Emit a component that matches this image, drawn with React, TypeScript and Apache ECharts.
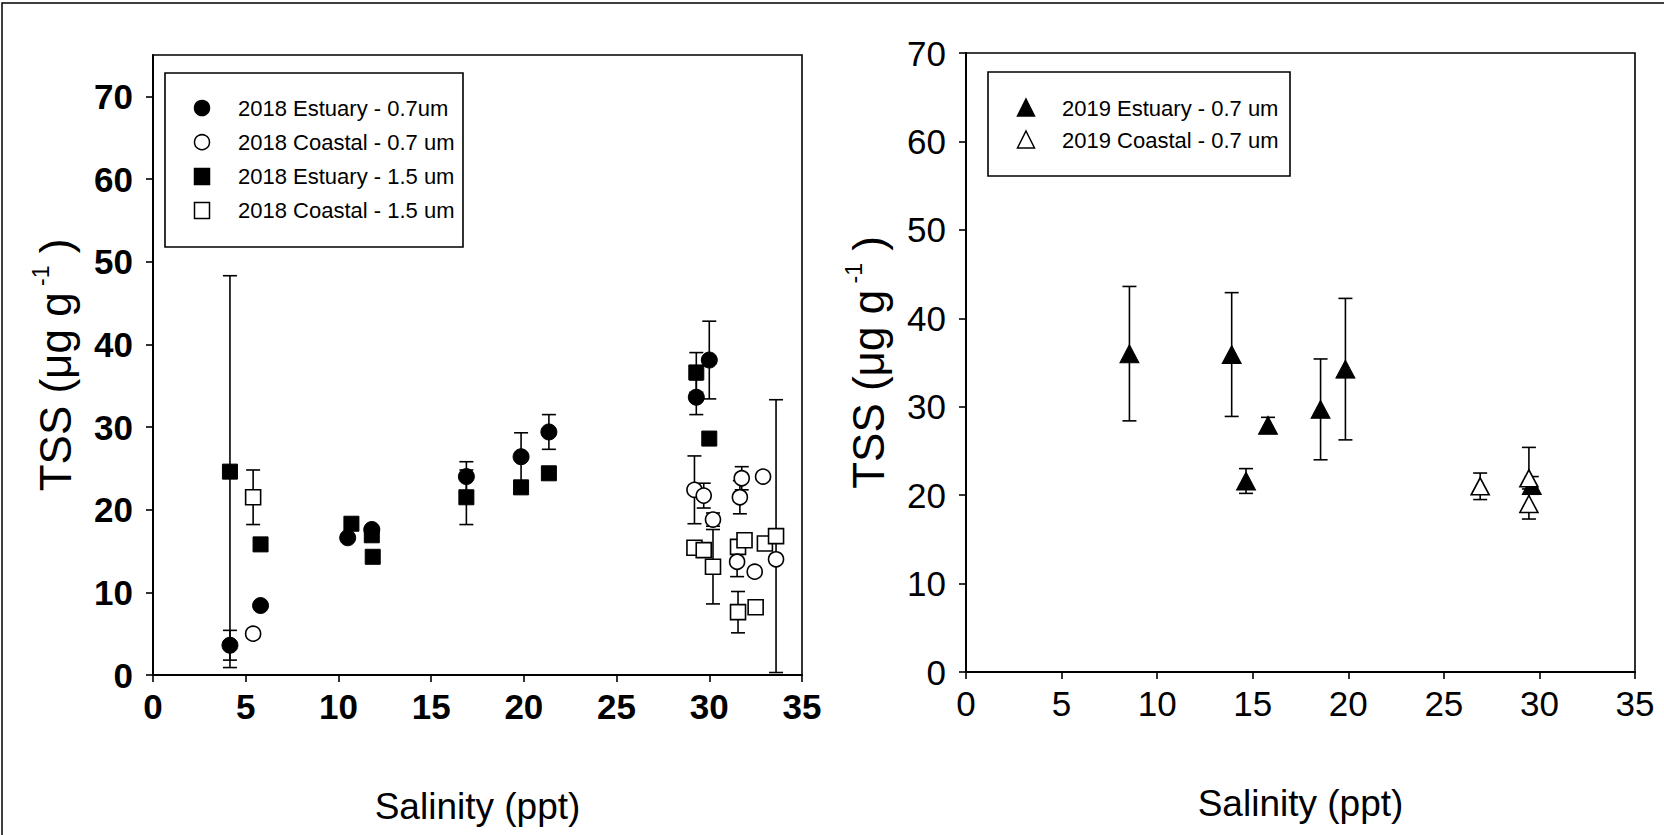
import React, { useEffect, useRef } from "react";
import * as echarts from "echarts";

// ---------- data: [salinity, TSS, error] ----------
const est07_2018: number[][] = [
  [4.15, 3.6, 1.8],
  [5.8, 8.4, 0],
  [10.5, 16.6, 0],
  [11.8, 17.6, 0],
  [16.9, 24.0, 1.8],
  [19.85, 26.4, 2.9],
  [21.35, 29.4, 2.1],
  [29.3, 33.6, 2.1],
  [30.0, 38.1, 4.7],
];
const coa07_2018: number[][] = [
  [5.4, 5.0, 0],
  [29.2, 22.4, 4.1],
  [29.7, 21.7, 1.5],
  [30.2, 18.8, 0.8],
  [31.75, 23.8, 1.4],
  [32.9, 24.0, 0],
  [31.65, 21.5, 2.0],
  [31.5, 13.7, 1.8],
  [32.45, 12.5, 0],
  [33.6, 14.0, 0],
];
const est15_2018: number[][] = [
  [4.15, 24.6, 23.7],
  [5.8, 15.8, 0],
  [10.7, 18.3, 0],
  [11.8, 16.9, 0],
  [11.85, 14.3, 0],
  [16.9, 21.5, 3.3],
  [19.85, 22.7, 0],
  [21.35, 24.4, 0],
  [29.3, 36.6, 2.4],
  [30.0, 28.6, 0],
];
const coa15_2018: number[][] = [
  [5.4, 21.5, 3.3],
  [29.2, 15.4, 0],
  [29.7, 15.1, 0],
  [30.2, 13.1, 4.5],
  [31.55, 15.5, 0],
  [31.9, 16.3, 0],
  [33.0, 15.9, 0],
  [33.6, 16.8, 16.5],
  [31.55, 7.6, 2.5],
  [32.5, 8.2, 0],
];
const est07_2019: number[][] = [
  [8.55, 36.0, 7.6],
  [13.9, 35.9, 7.0],
  [14.65, 21.6, 1.4],
  [15.8, 27.9, 0.9],
  [18.55, 29.7, 5.7],
  [19.85, 34.25, 8.0],
  [29.6, 21.1, 1.0],
];
const coa07_2019: number[][] = [
  [26.9, 21.0, 1.5],
  [29.45, 21.9, 3.5],
  [29.45, 19.0, 1.7],
];

const legend2018 = [
  "2018 Estuary - 0.7um",
  "2018 Coastal - 0.7 um",
  "2018 Estuary - 1.5 um",
  "2018 Coastal - 1.5 um",
];
const legend2019 = ["2019 Estuary - 0.7 um", "2019 Coastal - 0.7 um"];

const xTicks = [0, 5, 10, 15, 20, 25, 30, 35];
const yTicks = [0, 10, 20, 30, 40, 50, 60, 70];

const FONT = "'Liberation Sans', Arial, Helvetica, sans-serif";

function errorBars(data: number[][], idx: number, name: string) {
  return {
    type: "custom",
    name: name + " err",
    xAxisIndex: idx,
    yAxisIndex: idx,
    data,
    encode: { x: 0, y: 1 },
    z: 1,
    silent: true,
    renderItem: (params: any, api: any) => {
      const x = api.value(0);
      const y = api.value(1);
      const e = api.value(2);
      if (!e) return { type: "group", children: [] };
      const top = api.coord([x, y + e]);
      const bot = api.coord([x, Math.max(0, y - e)]);
      const h = 7;
      const st = { stroke: "#000", lineWidth: 1.6 };
      return {
        type: "group",
        children: [
          { type: "line", shape: { x1: top[0], y1: top[1], x2: bot[0], y2: bot[1] }, style: st },
          { type: "line", shape: { x1: top[0] - h, y1: top[1], x2: top[0] + h, y2: top[1] }, style: st },
          { type: "line", shape: { x1: bot[0] - h, y1: bot[1], x2: bot[0] + h, y2: bot[1] }, style: st },
        ],
      };
    },
  };
}

function scatter(data: number[][], idx: number, name: string, symbol: string, size: any, filled: boolean) {
  return {
    type: "scatter",
    name,
    xAxisIndex: idx,
    yAxisIndex: idx,
    data: data.map((d) => [d[0], d[1]]),
    symbol,
    symbolSize: size,
    z: 3,
    itemStyle: filled
      ? { color: "#000", borderColor: "#000", borderWidth: 1, opacity: 1 }
      : { color: "#fff", borderColor: "#000", borderWidth: 1.6, opacity: 1 },
  };
}

function xAxisCfg(idx: number, bold: boolean) {
  return {
    type: "value",
    gridIndex: idx,
    min: 0,
    max: 35,
    interval: 5,
    name: "Salinity (ppt)",
    nameLocation: "middle",
    nameGap: 113,
    nameTextStyle: { fontFamily: FONT, fontSize: 37, color: "#000" },
    axisLine: { show: true, onZero: false, lineStyle: { color: "#000", width: 2 } },
    axisTick: { show: true, inside: false, length: 7, lineStyle: { color: "#000", width: 1.6 }, customValues: xTicks },
    axisLabel: {
      show: true,
      margin: 14,
      fontFamily: FONT,
      fontSize: 35,
      fontWeight: bold ? "bold" : "normal",
      color: "#000",
      customValues: xTicks,
    },
    splitLine: { show: false },
  };
}

function yAxisCfg(idx: number, max: number, bold: boolean) {
  return {
    type: "value",
    gridIndex: idx,
    min: 0,
    max,
    interval: 10,
    name: "{a|TSS (μg g}{s| -1}{a| )}",
    nameLocation: "middle",
    nameGap: 76,
    nameRotate: 90,
    nameTextStyle: {
      color: "#000",
      rich: {
        a: { fontFamily: FONT, fontSize: 44, color: "#000", lineHeight: 48, verticalAlign: "bottom" },
        s: { fontFamily: FONT, fontSize: 23, color: "#000", lineHeight: 48, verticalAlign: "top" },
      },
    },
    axisLine: { show: true, onZero: false, lineStyle: { color: "#000", width: 2 } },
    axisTick: { show: true, inside: false, length: 7, lineStyle: { color: "#000", width: 1.6 }, customValues: yTicks },
    axisLabel: {
      show: true,
      margin: 20,
      fontFamily: FONT,
      fontSize: 35,
      fontWeight: bold ? "bold" : "normal",
      color: "#000",
      customValues: yTicks,
    },
    splitLine: { show: false },
  };
}

function legendGraphic(names: string[], x: number, y: number, w: number, h: number, rowY0: number, rowGap: number, symX: number, textX: number, kinds: string[]) {
  const children: any[] = [
    { type: "rect", shape: { x, y, width: w, height: h }, style: { fill: "#fff", stroke: "#000", lineWidth: 1.6 } },
  ];
  names.forEach((n, i) => {
    const cy = rowY0 + i * rowGap;
    const k = kinds[i];
    const fill = k.startsWith("f") ? "#000" : "#fff";
    const st = { fill, stroke: "#000", lineWidth: 1.5 };
    if (k.endsWith("circle")) children.push({ type: "circle", shape: { cx: symX, cy, r: 7.5 }, style: st });
    else if (k.endsWith("square")) children.push({ type: "rect", shape: { x: symX - 7.5, y: cy - 8, width: 15, height: 16 }, style: st });
    else children.push({ type: "polygon", shape: { points: [[symX, cy - 9], [symX + 8.5, cy + 8], [symX - 8.5, cy + 8]] }, style: st });
    children.push({
      type: "text",
      x: textX,
      y: cy,
      style: { text: n, fontFamily: FONT, fontSize: 22, fill: "#000", verticalAlign: "middle", align: "left" },
    });
  });
  return { type: "group", children };
}

export default function App() {
  const ref = useRef<HTMLDivElement>(null);
  useEffect(() => {
    if (!ref.current) return;
    const chart = echarts.init(ref.current, null, { renderer: "svg" });
    chart.setOption({
      animation: false,
      backgroundColor: "#fff",
      grid: [
        { left: 153, top: 55, width: 649, height: 620, show: true, borderColor: "#000", borderWidth: 1.6, backgroundColor: "transparent" },
        { left: 966, top: 53, width: 669, height: 619, show: true, borderColor: "#000", borderWidth: 1.6, backgroundColor: "transparent" },
      ],
      xAxis: [xAxisCfg(0, true), xAxisCfg(1, false)],
      yAxis: [yAxisCfg(0, 75, true), yAxisCfg(1, 70, false)],
      series: [
        errorBars(est15_2018, 0, legend2018[2]),
        errorBars(coa15_2018, 0, legend2018[3]),
        errorBars(est07_2018, 0, legend2018[0]),
        errorBars(coa07_2018, 0, legend2018[1]),
        scatter(est15_2018, 0, legend2018[2], "rect", 15, true),
        scatter(coa15_2018, 0, legend2018[3], "rect", 15, false),
        scatter(est07_2018, 0, legend2018[0], "circle", 16, true),
        scatter(coa07_2018, 0, legend2018[1], "circle", 15, false),
        errorBars(est07_2019, 1, legend2019[0]),
        errorBars(coa07_2019, 1, legend2019[1]),
        scatter(est07_2019, 1, legend2019[0], "triangle", [19, 18], true),
        scatter(coa07_2019, 1, legend2019[1], "triangle", [18, 17], false),
      ],
      graphic: [
        { type: "rect", shape: { x: 2, y: 3, width: 1700, height: 900 }, style: { fill: "none", stroke: "#000", lineWidth: 1.5 }, z: -1 },
        legendGraphic(legend2018, 165, 73, 298, 174, 108, 34.2, 202, 238, ["fcircle", "ocircle", "fsquare", "osquare"]),
        legendGraphic(legend2019, 988, 72, 302, 104, 108, 32, 1026, 1062, ["ftri", "otri"]),
      ],
    });
    return () => chart.dispose();
  }, []);
  return <div ref={ref} style={{ position: "fixed", left: 0, top: 0, width: 1664, height: 835, background: "#fff" }} />;
}
